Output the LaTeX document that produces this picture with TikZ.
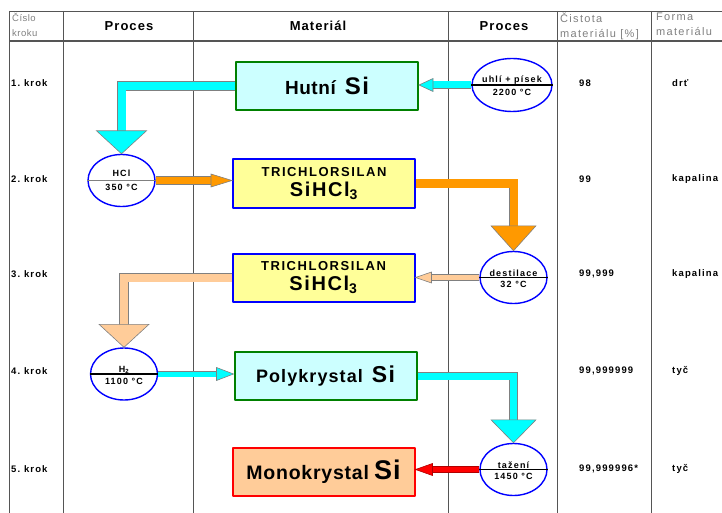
\documentclass[tikz,border=0pt]{standalone}
\usepackage{fontspec}
\setmainfont{Liberation Sans}
\usetikzlibrary{shapes.geometric,calc}
\definecolor{azur}{HTML}{00FFFF}
\definecolor{svetlemodra}{HTML}{CCFFFF}
\definecolor{zluta}{HTML}{FFFF99}
\definecolor{oranzova}{HTML}{FF9900}
\definecolor{losos}{HTML}{FFCC99}
\definecolor{zelena}{HTML}{008000}
\definecolor{cara}{HTML}{555555}
\newcommand\pismo[3]{\fontsize{#1}{#2}\selectfont\addfontfeature{LetterSpace=#3}}

\begin{document}
\begin{tikzpicture}[x=1pt,y=-1pt,line join=round,font=\bfseries]
\tikzset{
  box/.style={draw,line width=2pt,minimum width=182,minimum height=48,inner sep=0,align=center},
  proc/.style={ellipse,draw=blue,line width=1.4pt,fill=white,minimum width=67,minimum height=52,inner sep=0},
  ptext/.style={font=\bfseries\pismo{9}{10}{13},inner sep=0.6pt},
  shaft/.style={draw=gray,line width=0.6pt,double=#1,double distance=7pt,line join=miter},
  head/.style={fill=#1,draw=gray,line width=0.6pt,line join=miter},
  cell/.style={font=\bfseries\pismo{9.5}{10}{12},anchor=west,inner sep=0},
  hlava/.style={font=\bfseries\pismo{13}{15}{8}},
  sedy/.style={font=\pismo{11}{15.5}{12},text=gray,align=left,anchor=north west,inner sep=0},
}
\useasboundingbox (0,0) rectangle (722,513);
% tabulka
\draw[cara,line width=0.8pt] (9,11) -- (722,11);
\draw[cara,line width=1.8pt] (9,41) -- (722,41);
\foreach \x in {9,63,193,448,557,651}
  \draw[cara,line width=0.8pt] (\x,11) -- (\x,513);
\node[sedy,font=\pismo{9.5}{15}{5}] (h1) at (12,13) {Číslo\\kroku};
\node[hlava] (h2) at (129,26) {Proces};
\node[hlava] (h3) at (318,26) {Materiál};
\node[hlava] (h4) at (504,26) {Proces};
\node[sedy] (h5) at (560,12.5) {Čistota\\materiálu [\%]};
\node[sedy] (h6) at (656,12.5) {Forma\\materiálu};
\foreach \i/\y/\c/\f in {1/83/98/drť,2/179/99/kapalina,3/274/{99,999}/kapalina,4/371/{99,999999}/tyč,5/469/{99,999996*}/tyč}{
  \node[cell] (krok\i) at (11,\y) {\i.\ krok};
  \node[cell] (cist\i) at (579,\y) {\c};
  \node[cell] (forma\i) at (672,\y) {\f};
}
% material
\node[box,draw=zelena,fill=svetlemodra] (hutni) at (327,86) {{\pismo{19}{20}{3}Hutní}\hspace{9pt}{\pismo{24}{24}{6}Si}};
\node[box,draw=blue,fill=zluta] (tri1) at (324,183.5) {{\pismo{13}{14}{12}TRICHLORSILAN}\\[5pt]{\pismo{20}{20}{8}SiHCl\textsubscript{3}}};
\node[box,draw=blue,fill=zluta] (tri2) at (323.5,277.5) {{\pismo{13}{14}{12}TRICHLORSILAN}\\[5pt]{\pismo{20}{20}{8}SiHCl\textsubscript{3}}};
\node[box,draw=zelena,fill=svetlemodra] (poly) at (325.5,376) {{\pismo{18}{18}{6}Polykrystal}\hspace{9pt}{\pismo{23}{24}{6}Si}};
\node[box,draw=red,fill=losos] (mono) at (323.5,471.5) {{\pismo{19.5}{20}{4}Monokrystal}\hspace{5pt}{\pismo{27}{28}{4}Si}};
% procesy
\node[proc,minimum width=80,minimum height=53] (uhli) at (512,85) {};
\node[proc] (hcl) at (121.5,180.5) {};
\node[proc] (dest) at (513.5,277.5) {};
\node[proc] (vodik) at (124,374) {};
\node[proc] (tazeni) at (513.5,469.5) {};
\foreach \e in {uhli,dest,vodik,tazeni}
  \draw[line width=1.3pt] (\e.west) -- (\e.east);
\draw[gray,line width=0.5pt] (hcl.west) -- (hcl.east);
\node[ptext,anchor=south] (uhli-a) at (uhli.center) {uhlí + písek};
\node[ptext,anchor=north] (uhli-b) at ($(uhli.center)+(0,3)$) {2200 °C};
\node[ptext,anchor=south] (hcl-a) at ($(hcl.center)+(0,-3)$) {HCl};
\node[ptext,anchor=north] (hcl-b) at ($(hcl.center)+(0,3)$) {350 °C};
\node[ptext,anchor=south] (dest-a) at (dest.center) {destilace};
\node[ptext,anchor=north] (dest-b) at ($(dest.center)+(0,3)$) {32 °C};
\node[ptext,anchor=south] (vodik-a) at (vodik.center) {H\textsubscript{2}};
\node[ptext,anchor=north] (vodik-b) at ($(vodik.center)+(0,3)$) {1100 °C};
\node[ptext,anchor=south] (tazeni-a) at (tazeni.center) {tažení};
\node[ptext,anchor=north] (tazeni-b) at ($(tazeni.center)+(0,3)$) {1450 °C};
% sipky, 1. krok
\coordinate (s1) at (uhli.west -| hutni.east);
\draw[shaft=azur] (uhli.west) -- ($(s1)+(12,0)$);
\filldraw[head=azur] (s1) -- ++(14,-6.5) -- ++(0,13) -- cycle;
\draw[shaft=azur,double distance=8pt] (hutni.west) -| ($(hcl.north)+(0,-21)$);
\filldraw[head=azur] (hcl.north) -- ++(-25,-23) -- ++(50,0) -- cycle;
% 2. krok
\coordinate (s2) at (hcl.east -| tri1.west);
\draw[shaft=oranzova] (hcl.east) -- ($(s2)+(-19,0)$);
\filldraw[head=oranzova] (s2) -- ++(-21,-6.5) -- ++(0,13) -- cycle;
\draw[shaft=oranzova,double distance=8pt] (tri1.east) -| ($(dest.north)+(0,-22)$);
\filldraw[head=oranzova] (dest.north) -- ++(-22.5,-25) -- ++(45,0) -- cycle;
% 3. krok
\coordinate (s3) at (dest.west -| tri2.east);
\draw[shaft=losos,double distance=5pt] (dest.west) -- ($(s3)+(14,0)$);
\filldraw[head=losos] (s3) -- ++(16,-5.5) -- ++(0,11) -- cycle;
\draw[shaft=losos,double distance=8pt] (tri2.west) -| ($(vodik.north)+(0,-21)$);
\filldraw[head=losos] (vodik.north) -- ++(-25,-23) -- ++(50,0) -- cycle;
% 4. krok
\coordinate (s4) at (vodik.east -| poly.west);
\draw[shaft=azur,double distance=5pt] (vodik.east) -- ($(s4)+(-15,0)$);
\filldraw[head=azur] (s4) -- ++(-17,-6.5) -- ++(0,13) -- cycle;
\draw[shaft=azur] (poly.east) -| ($(tazeni.north)+(0,-21)$);
\filldraw[head=azur] (tazeni.north) -- ++(-22.5,-23) -- ++(45,0) -- cycle;
% 5. krok
\coordinate (s5) at (tazeni.west -| mono.east);
\draw[shaft=red,double distance=5pt,draw=red!70!black] (tazeni.west) -- ($(s5)+(15,0)$);
\filldraw[head=red,draw=red!70!black] (s5) -- ++(17,-6) -- ++(0,12) -- cycle;
\end{tikzpicture}
\end{document}
